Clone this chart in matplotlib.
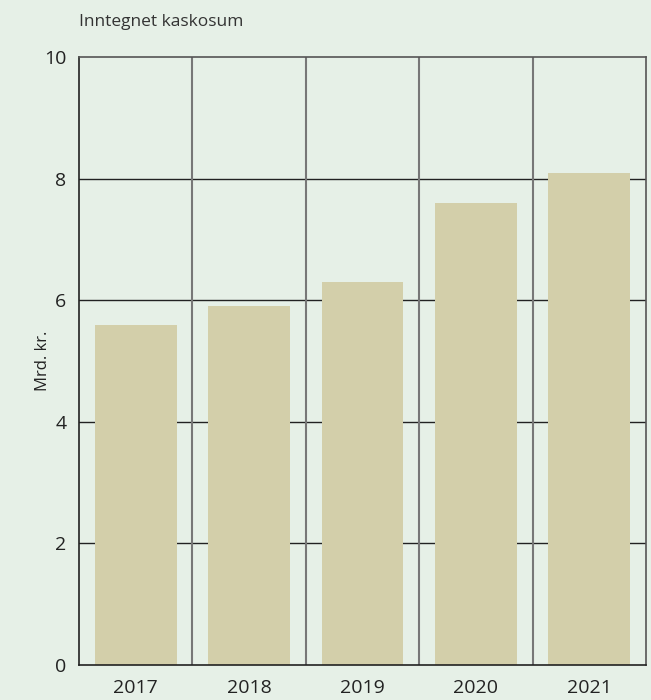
import matplotlib
matplotlib.use("Agg")
import matplotlib.pyplot as plt

# data
years = ["2017", "2018", "2019", "2020", "2021"]
values = [5.6, 5.9, 6.3, 7.6, 8.1]
yticks = [0, 2, 4, 6, 8, 10]

bg = "#e6f0e7"
bar_color = "#d3cfaa"

plt.rcParams["font.family"] = ["Open Sans", "DejaVu Sans"]

fig = plt.figure(figsize=(6.51, 7.0), dpi=100, facecolor=bg)
ax = fig.add_axes([79 / 651, 1 - 665 / 700, 567 / 651, 608 / 700])
ax.set_facecolor(bg)

x = range(len(years))
ax.bar(x, values, width=0.72, color=bar_color, zorder=3)

ax.set_xlim(-0.5, len(years) - 0.5)
ax.set_ylim(0, 10)
ax.set_yticks(yticks)
ax.set_xticks(list(x))
ax.set_xticklabels(years)

# horizontal grid lines (drawn behind bars)
for t in yticks[1:-1]:
    ax.axhline(t, color="#222222", lw=1.0, zorder=1)
# vertical separators between categories
for b in range(1, len(years)):
    ax.axvline(b - 0.5, color="#777777", lw=1.5, zorder=2)

ax.spines["left"].set_color("#222222")
ax.spines["bottom"].set_color("#222222")
ax.spines["top"].set_color("#555555")
ax.spines["right"].set_color("#555555")
for s in ax.spines.values():
    s.set_linewidth(1.2)
    s.set_zorder(5)

ax.tick_params(axis="y", length=0, labelsize=14, colors="#222222", pad=9)
ax.tick_params(axis="x", length=0, labelsize=14, colors="#222222", pad=10)
ax.set_ylabel("Mrd. kr.", fontsize=12, color="#222222")
ax.yaxis.set_label_coords(-0.05, 0.5)
fig.text(79 / 651, 1 - 22 / 700, "Inntegnet kaskosum", fontsize=12.5,
         color="#333333", va="center", ha="left")

fig.savefig("out.png", dpi=100, facecolor=bg)
